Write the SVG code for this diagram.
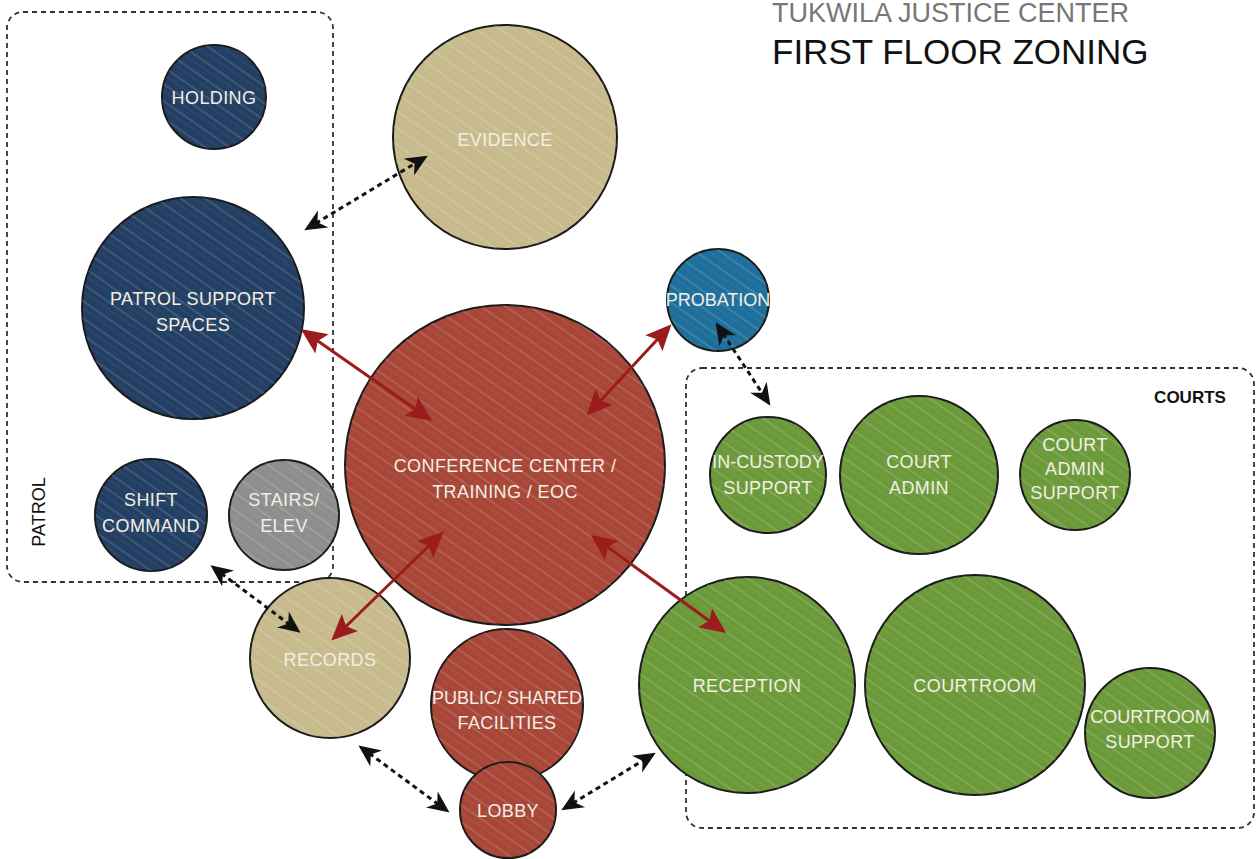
<svg xmlns="http://www.w3.org/2000/svg" width="1258" height="859" viewBox="0 0 1258 859">
<defs>
<pattern id="hatch" width="14" height="14" patternUnits="userSpaceOnUse" patternTransform="rotate(35)">
<line x1="0" y1="3" x2="14" y2="3" stroke="#ffffff" stroke-opacity="0.13" stroke-width="2"/>
<line x1="0" y1="9" x2="14" y2="9" stroke="#ffffff" stroke-opacity="0.07" stroke-width="1"/>
</pattern>
<marker id="ar" viewBox="0 0 10 10" refX="8" refY="5" markerWidth="26" markerHeight="26" orient="auto-start-reverse" markerUnits="userSpaceOnUse">
<path d="M0,0.5 L10,5 L0,9.5 L2,5 Z" fill="#9b1c1c"/>
</marker>
<marker id="ad" viewBox="0 0 10 10" refX="8" refY="5" markerWidth="22" markerHeight="22" orient="auto-start-reverse" markerUnits="userSpaceOnUse">
<path d="M0,0.5 L10,5 L0,9.5 L3,5 Z" fill="#111"/>
</marker>
</defs>
<style>
.zone{fill:none;stroke:#333;stroke-width:1.8;stroke-dasharray:5 4}
.c{stroke:#1a1a1a;stroke-width:2}
.hatch{fill:url(#hatch);stroke:none}
.navy{fill:#233f63}
.tan{fill:#c7bb8d}
.red{fill:#a84638}
.green{fill:#6c9a3a}
.blue{fill:#1e6f9c}
.gray{fill:#8e8e8e}
.lbl{font-family:"Liberation Sans",Arial,sans-serif;font-size:18px;letter-spacing:0.4px;fill:#f2efe4;text-anchor:middle}
.tight{letter-spacing:0}
.ttl{font-family:"Liberation Sans",Arial,sans-serif}
.dash{fill:none;stroke:#111;stroke-width:3;stroke-dasharray:5 4}
.redl{fill:none;stroke:#9b1c1c;stroke-width:3}
</style>
<rect width="1258" height="859" fill="#ffffff"/>
<g id="title">
<text class="ttl" x="772" y="22" font-size="27" fill="#777">TUKWILA JUSTICE CENTER</text>
<text class="ttl" x="772" y="64" font-size="35" fill="#111">FIRST FLOOR ZONING</text>
</g>
<g id="zones">
<rect class="zone" x="7" y="12" width="326" height="570" rx="16"/>
<rect class="zone" x="686" y="368" width="568" height="460" rx="16"/>
<text class="ttl" x="45" y="512" font-size="18" fill="#111" text-anchor="middle" transform="rotate(-90 45 512)">PATROL</text>
<text class="ttl" x="1190" y="403" font-size="17" font-weight="bold" fill="#111" text-anchor="middle">COURTS</text>
</g>
<g id="holding"><circle class="c navy" cx="214" cy="97" r="52"/><circle class="hatch" cx="214" cy="97" r="52"/><text class="lbl" x="214" y="104">HOLDING</text></g>
<g id="evidence"><circle class="c tan" cx="505" cy="137" r="112"/><circle class="hatch" cx="505" cy="137" r="112"/><text class="lbl" x="505" y="146">EVIDENCE</text></g>
<g id="patrol-support"><circle class="c navy" cx="193" cy="308" r="111"/><circle class="hatch" cx="193" cy="308" r="111"/><text class="lbl" x="193" y="305">PATROL SUPPORT</text><text class="lbl" x="193" y="331">SPACES</text></g>
<g id="probation"><circle class="c blue" cx="718" cy="300" r="51"/><circle class="hatch" cx="718" cy="300" r="51"/><text class="lbl tight" x="718" y="306">PROBATION</text></g>
<g id="conference"><circle class="c red" cx="505" cy="465" r="160"/><circle class="hatch" cx="505" cy="465" r="160"/><text class="lbl" x="505" y="472">CONFERENCE CENTER /</text><text class="lbl" x="505" y="498">TRAINING / EOC</text></g>
<g id="shift-command"><circle class="c navy" cx="151" cy="515" r="56"/><circle class="hatch" cx="151" cy="515" r="56"/><text class="lbl" x="151" y="506">SHIFT</text><text class="lbl" x="151" y="532">COMMAND</text></g>
<g id="stairs"><circle class="c gray" cx="284" cy="515" r="55"/><circle class="hatch" cx="284" cy="515" r="55"/><text class="lbl" x="284" y="506">STAIRS/</text><text class="lbl" x="284" y="532">ELEV</text></g>
<g id="records"><circle class="c tan" cx="330" cy="658" r="80"/><circle class="hatch" cx="330" cy="658" r="80"/><text class="lbl" x="330" y="666">RECORDS</text></g>
<g id="public"><circle class="c red" cx="507" cy="705" r="76"/><circle class="hatch" cx="507" cy="705" r="76"/><text class="lbl tight" x="507" y="704">PUBLIC/ SHARED</text><text class="lbl" x="507" y="729">FACILITIES</text></g>
<g id="lobby"><circle class="c red" cx="508" cy="810" r="48"/><circle class="hatch" cx="508" cy="810" r="48"/><text class="lbl" x="508" y="817">LOBBY</text></g>
<g id="in-custody"><circle class="c green" cx="768" cy="475" r="58"/><circle class="hatch" cx="768" cy="475" r="58"/><text class="lbl tight" x="768" y="468">IN-CUSTODY</text><text class="lbl" x="768" y="494">SUPPORT</text></g>
<g id="court-admin"><circle class="c green" cx="919" cy="475" r="79"/><circle class="hatch" cx="919" cy="475" r="79"/><text class="lbl" x="919" y="468">COURT</text><text class="lbl" x="919" y="494">ADMIN</text></g>
<g id="court-admin-support"><circle class="c green" cx="1075" cy="475" r="55"/><circle class="hatch" cx="1075" cy="475" r="55"/><text class="lbl" x="1075" y="451">COURT</text><text class="lbl" x="1075" y="475">ADMIN</text><text class="lbl" x="1075" y="499">SUPPORT</text></g>
<g id="reception"><circle class="c green" cx="747" cy="685" r="108"/><circle class="hatch" cx="747" cy="685" r="108"/><text class="lbl" x="747" y="692">RECEPTION</text></g>
<g id="courtroom"><circle class="c green" cx="975" cy="685" r="110"/><circle class="hatch" cx="975" cy="685" r="110"/><text class="lbl" x="975" y="692">COURTROOM</text></g>
<g id="courtroom-support"><circle class="c green" cx="1150" cy="733" r="65"/><circle class="hatch" cx="1150" cy="733" r="65"/><text class="lbl tight" x="1150" y="723">COURTROOM</text><text class="lbl" x="1150" y="748">SUPPORT</text></g>
<g id="connectors">
<line class="dash" x1="308" y1="228" x2="424" y2="158" marker-start="url(#ad)" marker-end="url(#ad)"/>
<line class="dash" x1="718" y1="326" x2="768" y2="402" marker-start="url(#ad)" marker-end="url(#ad)"/>
<line class="dash" x1="214" y1="568" x2="297" y2="630" marker-start="url(#ad)" marker-end="url(#ad)"/>
<line class="dash" x1="362" y1="748" x2="446" y2="810" marker-start="url(#ad)" marker-end="url(#ad)"/>
<line class="dash" x1="565" y1="808" x2="652" y2="755" marker-start="url(#ad)" marker-end="url(#ad)"/>
<line class="redl" x1="305" y1="332" x2="428" y2="418" marker-start="url(#ar)" marker-end="url(#ar)"/>
<line class="redl" x1="590" y1="412" x2="668" y2="328" marker-start="url(#ar)" marker-end="url(#ar)"/>
<line class="redl" x1="440" y1="535" x2="335" y2="637" marker-start="url(#ar)" marker-end="url(#ar)"/>
<line class="redl" x1="595" y1="538" x2="722" y2="630" marker-start="url(#ar)" marker-end="url(#ar)"/>
</g>
</svg>
